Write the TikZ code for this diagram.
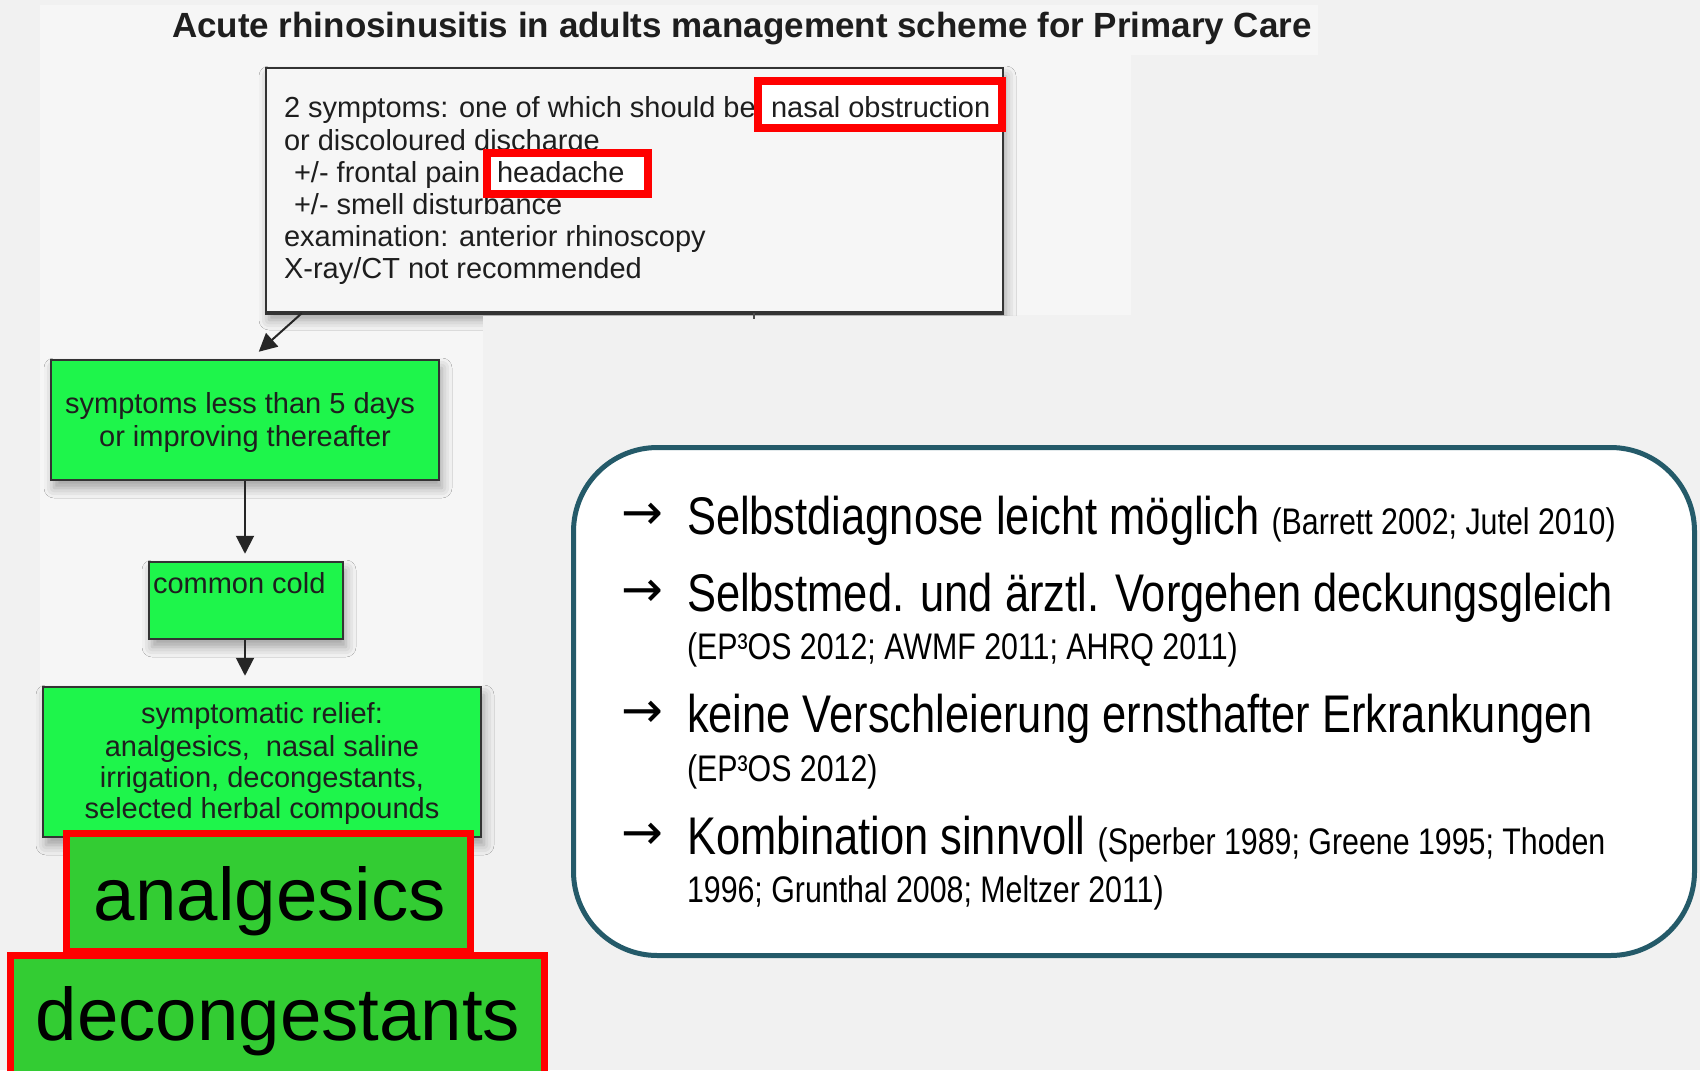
\documentclass[tikz,border=0pt]{standalone}
\usepackage{fontspec}
\setmainfont{Liberation Sans}
\newfontfamily\dejavu{DejaVu Sans}
\usetikzlibrary{arrows.meta,calc,shadows.blur}
\definecolor{bgA}{HTML}{F1F1F1}
\definecolor{bgB}{HTML}{F6F6F6}
\definecolor{vgreen}{HTML}{1EF54B}
\definecolor{mgreen}{HTML}{33CC33}
\definecolor{bubcol}{HTML}{245A69}
\definecolor{inkcol}{HTML}{1E1E1E}
\newcommand\nar[1]{\scalebox{0.82}[1]{#1}}
\newcommand\bigf{\fontsize{26.5}{30}\selectfont}
\newcommand\smf{\fontsize{18.5}{22}\selectfont}
\newcommand\schf{\fontsize{14.5}{16}\selectfont}
\newcommand\hugef{\fontsize{37.25}{40}\selectfont}
\newcommand\arrf{\dejavu\fontsize{25}{25}\selectfont}
\tikzset{
  txt/.style={inner sep=0pt, outer sep=0pt},
  lw/.style={txt, anchor=base west},
  cw/.style={txt, anchor=base},
  flowbox/.style={draw=black!80, line width=1.25pt, inner sep=0pt},
  sh/.style={blur shadow={shadow xshift=1.5pt, shadow yshift=-4pt, shadow blur radius=5pt, shadow opacity=35}},
  redbox/.style={draw=red, line width=4pt, fill=white, inner sep=0pt},
  bigred/.style={draw=red, line width=3.5pt, fill=mgreen, inner sep=0pt},
  arr/.style={line width=1pt, black!85, -{Triangle[length=9pt,width=9pt]}}
}
\begin{document}
\begin{tikzpicture}[x=0.5pt,y=-0.5pt]
\useasboundingbox (0,0) rectangle (1700,1070);
\fill[bgA] (0,0) rectangle (1700,1070);
\fill[bgB] (40,5) -- (1318,5) -- (1318,55) -- (1131,55) -- (1131,315) -- (483,315) -- (483,840) -- (40,840) -- cycle;

% title
\node[lw, text=inkcol] (title) at (172,38) {\fontsize{17.5}{20}\selectfont\bfseries Acute rhinosinusitis in adults management scheme for Primary Care};

% top criteria box
\node[flowbox, sh, fill=bgB, minimum width=368.5pt, minimum height=122pt] (crit) at (634.5,190) {};
\fill[bgA] (483,316) rectangle (1131,440);
\draw[flowbox] (crit.south west) -- (crit.south east);
\node[lw, text=inkcol] (c1) at (284,118) {\schf 2 symptoms: one of which should be};
\node[lw, text=inkcol] (c2) at (284,150) {\schf or discoloured discharge};
\node[lw, text=inkcol] (c3) at (294,182) {\schf +/- frontal pain};
\node[lw, text=inkcol] (c4) at (294,214) {\schf +/- smell disturbance};
\node[lw, text=inkcol] (c5) at (284,246) {\schf examination: anterior rhinoscopy};
\node[lw, text=inkcol] (c6) at (284,278) {\schf X-ray/CT not recommended};
\node[redbox, minimum width=122pt, minimum height=23.5pt] (nasal) at (880,104.5) {};
\node[lw, text=inkcol] (nasalt) at (771,118) {\schf nasal obstruction};
\node[redbox, minimum width=80.5pt, minimum height=20.5pt] (head) at (567.5,173.5) {};
\node[lw, text=inkcol] (headt) at (497,182) {\schf headache};
\draw[line width=1pt, black!70] ($(crit.south west)+(489,0)$) -- ++(0,6);

% green flow boxes
\node[flowbox, sh, fill=vgreen, minimum width=194pt, minimum height=60pt] (g1) at (245,420) {};
\node[cw, text=inkcol] (g1a) at (240,413) {\schf symptoms less than 5 days};
\node[cw, text=inkcol] (g1b) at (245,446) {\schf or improving thereafter};

\node[flowbox, sh, fill=vgreen, minimum width=97pt, minimum height=38.5pt] (g2) at (246,600.5) {};
\node[lw, text=inkcol] (g2a) at (153,593) {\schf common cold};

\node[flowbox, sh, fill=vgreen, minimum width=219pt, minimum height=75pt] (g3) at (262,762) {};
\node[cw, text=inkcol] (g3a) at (262,723) {\schf symptomatic relief:};
\node[cw, text=inkcol] (g3b) at (262,756) {\schf analgesics,~ nasal saline};
\node[cw, text=inkcol] (g3c) at (262,787) {\schf irrigation, decongestants,};
\node[cw, text=inkcol] (g3d) at (262,818) {\schf selected herbal compounds};

\draw[arr] ($(crit.south west)+(37,0)$) -- ($(g1.north west)+(209,-7)$);
\draw[arr] (g1.south) -- ($(g1.south |- g2.north)+(0,-7)$);
\draw[arr] (g2.south -| g1.south) -- ($(g1.south |- g3.north)+(0,-10)$);

% highlighted boxes
\node[bigred, minimum width=202pt, minimum height=59pt] (ana) at (268.5,892.5) {};
\node[cw] (anat) at (270,920) {\hugef analgesics};
\node[bigred, minimum width=267pt, minimum height=59.5pt] (dec) at (277.5,1015) {};
\node[cw] (dect) at (278,1040) {\hugef decongestants};

% bubble
\node[draw=bubcol, line width=2.5pt, fill=white, rounded corners=42pt, minimum width=560.5pt, minimum height=254pt, inner sep=0pt] (bub) at (1134,701.5) {};
\node[txt] (ar1) at (642,516) {\arrf →};
\node[txt] (ar2) at (642,593) {\arrf →};
\node[txt] (ar3) at (642,714) {\arrf →};
\node[txt] (ar4) at (642,836) {\arrf →};
\node[lw] (b1) at (687,534) {\nar{\bigf Selbstdiagnose leicht möglich \smf (Barrett 2002; Jutel 2010)}};
\node[lw] (b2) at (687,611) {\nar{\bigf Selbstmed. und ärztl. Vorgehen deckungsgleich}};
\node[lw] (b2r) at (687,659) {\nar{\smf (EP³OS 2012; AWMF 2011; AHRQ 2011)}};
\node[lw] (b3) at (687,732) {\nar{\bigf keine Verschleierung ernsthafter Erkrankungen}};
\node[lw] (b3r) at (687,781) {\nar{\smf (EP³OS 2012)}};
\node[lw] (b4) at (687,854) {\nar{\bigf Kombination sinnvoll \smf (Sperber 1989; Greene 1995; Thoden}};
\node[lw] (b4r) at (687,902) {\nar{\smf 1996; Grunthal 2008; Meltzer 2011)}};
\end{tikzpicture}
\end{document}
